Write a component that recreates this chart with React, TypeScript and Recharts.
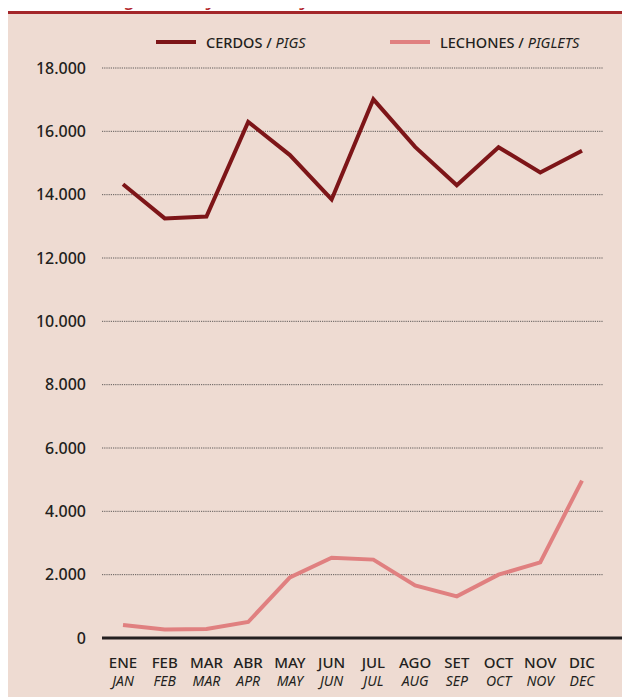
import { LineChart, Line, XAxis, YAxis, CartesianGrid, Legend } from "recharts"

const meses = ["ENE", "FEB", "MAR", "ABR", "MAY", "JUN", "JUL", "AGO", "SET", "OCT", "NOV", "DIC"]
const months = ["JAN", "FEB", "MAR", "APR", "MAY", "JUN", "JUL", "AUG", "SEP", "OCT", "NOV", "DEC"]
const cerdos = [14330, 13250, 13310, 16300, 15250, 13850, 17010, 15510, 14300, 15500, 14700, 15390]
const lechones = [410, 265, 285, 505, 1915, 2535, 2475, 1660, 1315, 2000, 2390, 4970]
const yTicks = [0, 2000, 4000, 6000, 8000, 10000, 12000, 14000, 16000, 18000]

const data = meses.map((mes, i) => ({ mes, cerdos: cerdos[i], lechones: lechones[i] }))

const INK = "#231f20"
const PIGS = "#7d1518"
const PIGLETS = "#e08080"
const FONT = "'Noto Sans', 'Open Sans', sans-serif"

const miles = (v: number) => String(v).replace(/\B(?=(\d{3})+(?!\d))/g, ".")

function MonthTick(props: any) {
  const { x, y, payload } = props
  const i = payload.index ?? props.index
  return (
    <g fill={INK} fontFamily={FONT}>
      <text x={x} y={y + 29.5} textAnchor="middle" fontSize={15} fontWeight={500}>{meses[i]}</text>
      <text x={x} y={y + 47.5} textAnchor="middle" fontSize={14} fontStyle="italic">{months[i]}</text>
    </g>
  )
}

function LegendBox() {
  const items = [
    { es: "CERDOS", en: "PIGS", color: PIGS, w: 234 },
    { es: "LECHONES", en: "PIGLETS", color: PIGLETS, w: 240 },
  ]
  return (
    <div style={{ display: "flex", paddingLeft: 148, height: 20, alignItems: "center", fontFamily: FONT, fontSize: 14.5, color: INK }}>
      {items.map((it) => (
        <div key={it.es} style={{ display: "flex", alignItems: "center", width: it.w }}>
          <span style={{ display: "inline-block", width: 40, height: 4, background: it.color, marginRight: 10 }} />
          <span style={{ fontWeight: 500 }}>{it.es} /&nbsp;</span>
          <span style={{ fontStyle: "italic" }}>{it.en}</span>
        </div>
      ))}
    </div>
  )
}

export default function App() {
  return (
    <div style={{ position: "relative", width: 622, height: 689 }}>
      <div
        style={{
          position: "absolute", left: 14, top: -23, lineHeight: 1, whiteSpace: "nowrap",
          fontFamily: FONT, fontStyle: "italic", fontSize: 22, color: "#b3262b",
        }}
      >
        Swine slaughter - by class - by month
      </div>
      <div style={{ position: "absolute", left: 0, top: 3, width: 622, height: 3, background: "#a3262a" }} />
      <div style={{ position: "absolute", left: 0, top: 6, width: 622, height: 683, background: "#eedbd2" }}>
        <LineChart width={622} height={683} data={data} margin={{ top: 34, right: 0, bottom: 9, left: 14 }}>
          <CartesianGrid
            vertical={false}
            horizontal={(p: any) => (
              <line
                key={p.key}
                x1={p.x1}
                x2={p.x2 - 27}
                y1={p.y1}
                y2={p.y2}
                stroke="#3a3a3a"
                strokeWidth={0.8}
                strokeDasharray="1.2 1"
              />
            )}
          />
          <XAxis
            dataKey="mes"
            interval={0}
            padding={{ left: 21, right: 48 }}
            tickLine={false}
            tickSize={0}
            tickMargin={0}
            height={50}
            axisLine={{ stroke: INK, strokeWidth: 3 }}
            tick={<MonthTick />}
          />
          <YAxis
            width={80}
            domain={[0, 18000]}
            ticks={yTicks}
            tickFormatter={miles}
            axisLine={false}
            tickLine={false}
            tickSize={0}
            tickMargin={16}
            tick={{ fill: INK, fontSize: 16, fontFamily: FONT, fontWeight: 500 }}
          />
          <Legend verticalAlign="top" content={<LegendBox />} wrapperStyle={{ top: 18, left: 0, width: 622 }} />
          <Line type="linear" dataKey="cerdos" stroke={PIGS} strokeWidth={4} dot={false} isAnimationActive={false} />
          <Line type="linear" dataKey="lechones" stroke={PIGLETS} strokeWidth={4} dot={false} isAnimationActive={false} />
        </LineChart>
      </div>
    </div>
  )
}
